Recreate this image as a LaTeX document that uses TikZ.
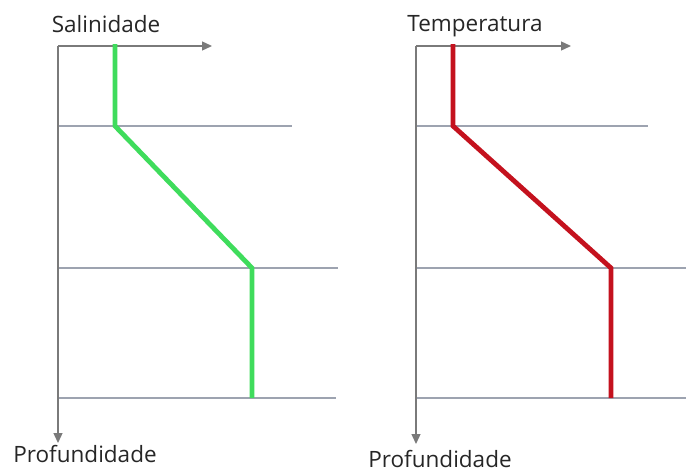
\documentclass[tikz,border=0pt]{standalone}
\usepackage{fontspec}
\setmainfont{Open Sans}
\usetikzlibrary{arrows.meta}

\tikzstyle{axis-line}=[draw={AxisGray}, line width=1.3pt, -{Triangle[length=10pt, width=9pt]}]
\tikzstyle{layer-line}=[draw={LayerGray}, line width=1.5pt]
\tikzstyle{profile-line}=[line width=4.8pt, line join=miter]
\tikzstyle{axis-label}=[inner sep=0pt, font=\fontsize{22.5}{25}\selectfont, text=black!85]
\definecolor{AxisGray}{HTML}{7a7a7a}
\definecolor{LayerGray}{HTML}{9da3b0}
\definecolor{ProfileGreen}{HTML}{3fdc5c}
\definecolor{ProfileRed}{HTML}{c4121e}

\begin{document}
\begin{tikzpicture}[x=1pt, y=-1pt]
      \useasboundingbox (0,0) rectangle (686,472);

      % salinidade
      \coordinate (sal-origin) at (58, 46);
      \coordinate (sal-xend) at (212, 46);
      \coordinate (sal-yend) at (58, 443);
      \node (sal-title) at (106, 24) [axis-label] {Salinidade};
      \node (sal-depth) at (85, 454) [axis-label] {Profundidade};
      \draw [layer-line] (58, 126) -- (292, 126);
      \draw [layer-line] (58, 268) -- (338, 268);
      \draw [layer-line] (58, 398) -- (336, 398);
      \draw [axis-line] (sal-origin) -- (sal-xend);
      \draw [axis-line] (sal-origin) -- (sal-yend);
      \coordinate (sal-a) at (115, 44);
      \coordinate (sal-b) at (115, 126);
      \coordinate (sal-c) at (252, 268);
      \coordinate (sal-d) at (252, 398);
      \draw [profile-line, ProfileGreen] (sal-a) -- (sal-b) -- (sal-c) -- (sal-d);

      % temperatura
      \coordinate (temp-origin) at (416, 46);
      \coordinate (temp-xend) at (571, 46);
      \coordinate (temp-yend) at (416, 444);
      \node (temp-title) at (475, 26) [axis-label] {Temperatura};
      \node (temp-depth) at (440, 459) [axis-label] {Profundidade};
      \draw [layer-line] (416, 126) -- (648, 126);
      \draw [layer-line] (416, 268) -- (686, 268);
      \draw [layer-line] (416, 398) -- (686, 398);
      \draw [axis-line] (temp-origin) -- (temp-xend);
      \draw [axis-line] (temp-origin) -- (temp-yend);
      \coordinate (temp-a) at (453, 44);
      \coordinate (temp-b) at (453, 126);
      \coordinate (temp-c) at (611, 268);
      \coordinate (temp-d) at (611, 398);
      \draw [profile-line, ProfileRed] (temp-a) -- (temp-b) -- (temp-c) -- (temp-d);
\end{tikzpicture}
\end{document}
